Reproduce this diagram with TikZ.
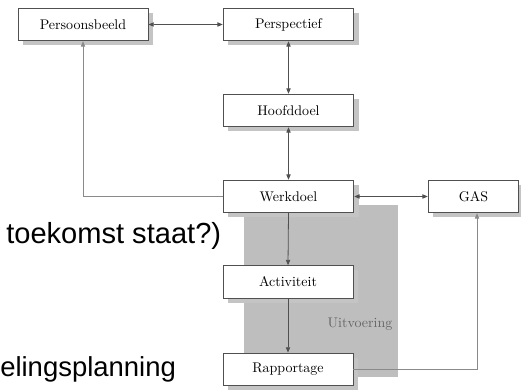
\documentclass[tikz,border=0pt]{standalone}
\usepackage{fontspec}
\newfontfamily\slidefont{Liberation Sans}
\usetikzlibrary{arrows.meta,shadows,calc}
\definecolor{boxline}{HTML}{505050}
\definecolor{shadowgray}{HTML}{C4C4C4}
\definecolor{areagray}{HTML}{BEBEBE}
\definecolor{linegray}{HTML}{8A8A8A}
\begin{document}
\begin{tikzpicture}[x=0.75pt,y=-0.75pt,
  box/.style={draw=boxline,line width=0.6pt,fill=white,minimum height=24.5pt,
    inner sep=0pt,font=\fontsize{10.5pt}{12pt}\selectfont,
    drop shadow={shadow xshift=3.5pt,shadow yshift=-3.5pt,fill=shadowgray,opacity=1}},
  conn/.style={draw=boxline,line width=0.6pt,-{Triangle[length=4pt,width=3.2pt]}},
  biconn/.style={draw=boxline,line width=0.6pt,{Triangle[length=4pt,width=3.2pt]}-{Triangle[length=4pt,width=3.2pt]}},
  light/.style={draw=linegray,line width=0.6pt,-{Triangle[length=4pt,width=3.2pt]}},
  slide/.style={inner sep=0pt,font=\slidefont\fontsize{20.6pt}{24pt}\selectfont}]
\useasboundingbox (0,0) rectangle (521,391);
\fill[white] (0,0) rectangle (521,391);
% execution area
\fill[areagray] (244,205) rectangle (398,377);
\node[text=black!60,font=\fontsize{10.5pt}{12pt}\selectfont] (uit) at (360,324) {Uitvoering};
% slide text behind
\node[slide,anchor=base west,font=\slidefont\fontsize{21.8pt}{24pt}\selectfont] (t1) at (6,244) {toekomst staat?)};
\node[slide,anchor=base west] (t2) at (0,377) {elingsplanning};
% boxes
\node[box,minimum width=97.5pt] (pb) at (83,24.5) {Persoonsbeeld};
\node[box,minimum width=98pt] (pp) at (288.5,24.5) {Perspectief};
\node[box,minimum width=98pt] (hd) at (288.5,110.5) {Hoofddoel};
\node[box,minimum width=98pt] (wd) at (288.5,196.5) {Werkdoel};
\node[box,minimum width=68pt] (gas) at (473.5,196.5) {GAS};
\node[box,minimum width=97.5pt] (act) at (288,282) {Activiteit};
\node[box,minimum width=97.5pt,minimum height=24pt] (rap) at (288,369) {Rapportage};
% connectors
\draw[biconn] (pb.east) -- (pp.west);
\draw[biconn] (pp.south) -- (hd.north);
\draw[biconn] (hd.south) -- (wd.north);
\draw[biconn] (wd.east) -- (gas.west);
\draw[light] (wd.west) -| (pb.south);
\draw[conn] (wd.south) -- (act.north);
\draw[conn] (act.south) -- (rap.north);
\draw[light] (rap.east) -| ($(gas.south)+(3.5,0)$);
\end{tikzpicture}
\end{document}
